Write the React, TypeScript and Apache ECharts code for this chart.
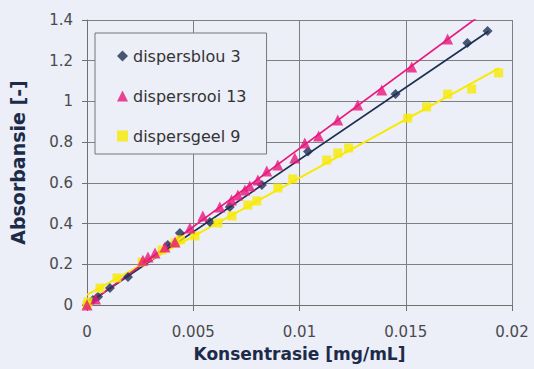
import React, { useEffect, useRef } from "react";
import * as echarts from "echarts";

const xTicks = [0, 0.005, 0.01, 0.015, 0.02];
const yTicks = [0, 0.2, 0.4, 0.6, 0.8, 1, 1.2, 1.4];

const blouPoints: [number, number][] = [
  [0, 0], [0.00028, 0.025], [0.00052, 0.04], [0.00108, 0.083], [0.00193, 0.138],
  [0.0038, 0.295], [0.00437, 0.354], [0.00578, 0.408], [0.00672, 0.481],
  [0.00823, 0.589], [0.0104, 0.754], [0.01452, 1.036], [0.0179, 1.287], [0.01885, 1.346],
];
const rooiPoints: [number, number][] = [
  [0, 0], [0.0004, 0.03], [0.00263, 0.22], [0.00287, 0.236], [0.0032, 0.255],
  [0.00367, 0.285], [0.00414, 0.31], [0.00484, 0.378], [0.00545, 0.437],
  [0.00625, 0.481], [0.0068, 0.516], [0.0071, 0.54], [0.00743, 0.565],
  [0.00766, 0.585], [0.00804, 0.614], [0.00846, 0.658], [0.00898, 0.688],
  [0.00978, 0.722], [0.01025, 0.796], [0.0109, 0.83], [0.0118, 0.909],
  [0.01274, 0.982], [0.01387, 1.056], [0.01528, 1.169], [0.01697, 1.307],
];
const geelPoints: [number, number][] = [
  [0, 0], [0.00005, 0.015], [0.00061, 0.083], [0.00141, 0.133], [0.00259, 0.211],
  [0.00353, 0.27], [0.00414, 0.305], [0.0044, 0.32], [0.00508, 0.339],
  [0.00616, 0.403], [0.00682, 0.437], [0.00757, 0.491], [0.00799, 0.511],
  [0.00898, 0.575], [0.00968, 0.619], [0.01128, 0.712], [0.0118, 0.747],
  [0.01231, 0.771], [0.01509, 0.918], [0.01598, 0.973], [0.01697, 1.036],
  [0.0181, 1.061], [0.01937, 1.14],
];

// trend lines (linear fits)
const blouTrend: [number, number][] = [[0, 0.005], [0.0189, 1.345]];
const rooiTrend: [number, number][] = [[0, 0], [0.0186, 1.43]];
const geelTrend: [number, number][] = [[0, 0.05], [0.0194, 1.164]];

const names = ["dispersblou 3", "dispersrooi 13", "dispersgeel 9"];
const colors = ["#1d2f52", "#e8177c", "#f7ea00"];

const BG = "#eceef8";
const FONT = "DejaVu Sans";

export default function App() {
  const ref = useRef<HTMLDivElement>(null);
  useEffect(() => {
    if (!ref.current) return;
    const chart = echarts.init(ref.current, null, { renderer: "svg" });
    const fmt = (v: number) => String(+v.toFixed(3));
    chart.setOption({
      animation: false,
      backgroundColor: BG,
      grid: { left: 87, right: 22, top: 20, bottom: 64 },
      legend: {
        orient: "vertical",
        left: 95,
        top: 33,
        padding: [15, 20, 10, 22],
        itemGap: 24,
        itemWidth: 11,
        itemHeight: 11,
        borderColor: "#777",
        borderWidth: 1,
        backgroundColor: BG,
        textStyle: { fontFamily: FONT, fontSize: 16, color: "#333" },
        data: [
          { name: names[0], icon: "diamond" },
          { name: names[1], icon: "triangle" },
          { name: names[2], icon: "rect" },
        ],
      },
      xAxis: {
        type: "value",
        min: xTicks[0],
        max: xTicks[xTicks.length - 1],
        interval: xTicks[1] - xTicks[0],
        name: "Konsentrasie [mg/mL]",
        nameLocation: "middle",
        nameGap: 40,
        nameTextStyle: { fontFamily: FONT, fontSize: 17, fontWeight: "bold", color: "#1c2b48" },
        axisLine: { show: true, lineStyle: { color: "#707070", width: 1 } },
        axisTick: { show: true, length: 6, lineStyle: { color: "#707070" } },
        axisLabel: { formatter: fmt, fontFamily: FONT, fontSize: 15, color: "#4a4a4a", margin: 19 },
        splitLine: { show: true, lineStyle: { color: "#7d7f80", width: 1 } },
      },
      yAxis: {
        type: "value",
        min: yTicks[0],
        max: yTicks[yTicks.length - 1],
        interval: 0.2,
        name: "Absorbansie [-]",
        nameLocation: "middle",
        nameGap: 60,
        nameTextStyle: { fontFamily: FONT, fontSize: 19, fontWeight: "bold", color: "#1c2b48" },
        axisLine: { show: true, lineStyle: { color: "#707070", width: 1 } },
        axisTick: { show: true, length: 5, lineStyle: { color: "#707070" } },
        axisLabel: { formatter: fmt, fontFamily: FONT, fontSize: 15, color: "#4a4a4a", margin: 14 },
        splitLine: { show: true, lineStyle: { color: "#7d7f80", width: 1 } },
      },
      series: [
        {
          name: "trend-blou", type: "line", data: blouTrend, showSymbol: false, silent: true,
          lineStyle: { color: colors[0], width: 1.7 }, clip: true, z: 2,
        },
        {
          name: "trend-geel", type: "line", data: geelTrend, showSymbol: false, silent: true,
          lineStyle: { color: colors[2], width: 1.9 }, clip: true, z: 2,
        },
        {
          name: "trend-rooi", type: "line", data: rooiTrend, showSymbol: false, silent: true,
          lineStyle: { color: colors[1], width: 1.7 }, clip: true, z: 2,
        },
        {
          name: names[0], type: "scatter", data: blouPoints, symbol: "diamond", symbolSize: 10,
          itemStyle: { color: colors[0] }, z: 3,
        },
        {
          name: names[2], type: "scatter", data: geelPoints, symbol: "rect", symbolSize: 9,
          itemStyle: { color: colors[2] }, z: 3,
        },
        {
          name: names[1], type: "scatter", data: rooiPoints, symbol: "triangle", symbolSize: 11,
          itemStyle: { color: colors[1] }, z: 3,
        },
      ],
    });
    return () => chart.dispose();
  }, []);
  return (
    <div
      ref={ref}
      style={{ position: "fixed", left: 0, top: 0, width: 534, height: 369, background: BG }}
    />
  );
}
